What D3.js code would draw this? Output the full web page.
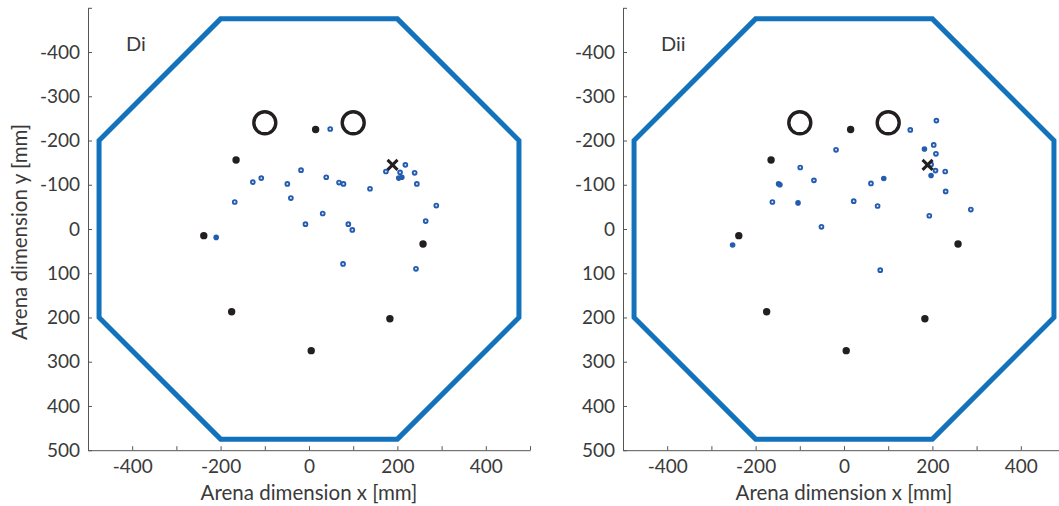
<!DOCTYPE html>
<html>
<head>
<meta charset="utf-8">
<script src="https://cdn.jsdelivr.net/npm/d3@7"></script>
<style>
  html, body { margin: 0; padding: 0; background: #fff; }
  svg { display: block; }
  text { font-family: Lato, "Open Sans", sans-serif; fill: #3a3a3a; }
</style>
</head>
<body>
<svg id="chart" width="1059" height="506"></svg>
<script>
// Arena outline (mm): octagon vertices
const arenaX = [-200, 200, 475, 475, 200, -200, -475, -475];
const arenaY = [-475, -475, -200, 200, 475, 475, 200, -200];

// Landmarks shared by both panels
const goalX = [-100, 100];
const goalY = [-240, -240];
const cueX = [15, -165, -238, 258, -175, 183, 5];
const cueY = [-225, -156, 15, 34, 187, 203, 275];
const crossX = [189];
const crossY = [-145];

// Panel Di: search positions
const diRingX = [-18, -127, -108, -49, -41, -168, -8, 48, 218, 174, 206, 239, 244, 39, 68, 78, 138, 31, 288, 264, 89, 98, 77, 242];
const diRingY = [-133, -106, -115, -102, -70, -61, -11, -226, -145, -130, -128, -127, -102, -117, -105, -102, -91, -35, -53, -18, -11, 2, 79, 90];
const diDotX = [-210, 203, 210];
const diDotY = [19, -115, -117];

// Panel Dii: search positions
const diiRingX = [-18, -99, -68, -162, 22, -51, 209, 150, 203, 208, 197, 207, 229, 61, 230, 76, 287, 193, 82];
const diiRingY = [-179, -139, -110, -61, -63, -5, -245, -224, -190, -170, -146, -132, -130, -103, -85, -52, -44, -30, 93];
const diiDotX = [-148, -145, -104, -252, 182, 197, 90];
const diiDotY = [-102, -100, -59, 36, -181, -121, -114];

// Axis ticks
const tickVals = d3.range(-500, 501, 100);
const xLabelVals = [-400, -200, 0, 200, 400];
const yLabelVals = [-400, -300, -200, -100, 0, 100, 200, 300, 400, 500];

const W = 442, H = 442.4;
const x = d3.scaleLinear().domain([-500, 500]).range([0, W]);
const y = d3.scaleLinear().domain([-500, 500]).range([0, H]);

const svg = d3.select("#chart");
const BLUE_ARENA = "#1372bc";
const BLUE_PTS = "#245cb0";
const DARK = "#231f20";

function drawPanel(left, label, ringX, ringY, dotX, dotY, showYLabel) {
  const g = svg.append("g").attr("transform", `translate(${left},7.8)`);

  // axes
  const xAxis = d3.axisBottom(x).tickValues(tickVals).tickSize(-4).tickSizeOuter(0)
    .tickPadding(9)
    .tickFormat(d => xLabelVals.includes(d) ? String(d) : "");
  const yAxis = d3.axisLeft(y).tickValues(tickVals).tickSize(-4).tickSizeOuter(0)
    .tickPadding(8)
    .tickFormat(d => yLabelVals.includes(d) ? String(d) : "");

  const gx = g.append("g").attr("transform", `translate(0,${H})`).call(xAxis);
  const gy = g.append("g").call(yAxis);
  [gx, gy].forEach(a => {
    a.selectAll("path.domain").attr("stroke", "#555").attr("stroke-width", 1);
    a.selectAll(".tick line").attr("stroke", "#555").attr("stroke-width", 1);
    a.selectAll(".tick text").style("font-family", "Lato, 'Open Sans', sans-serif")
      .style("font-size", "19px").attr("fill", "#3a3a3a");
  });

  // arena outline
  const pts = arenaX.map((v, i) => [x(v), y(arenaY[i])]);
  g.append("path")
    .attr("d", d3.line()(pts) + "Z")
    .attr("fill", "none")
    .attr("stroke", BLUE_ARENA)
    .attr("stroke-width", 5)
    .attr("stroke-linejoin", "miter");

  // goal rings
  g.selectAll(".goal").data(goalX).enter().append("circle")
    .attr("cx", d => x(d)).attr("cy", (d, i) => y(goalY[i]))
    .attr("r", 11).attr("fill", "none").attr("stroke", DARK).attr("stroke-width", 3.4);

  // cue dots
  g.selectAll(".cue").data(cueX).enter().append("circle")
    .attr("cx", d => x(d)).attr("cy", (d, i) => y(cueY[i]))
    .attr("r", 3.7).attr("fill", DARK);

  // search positions: open rings
  g.selectAll(".ring").data(ringX).enter().append("circle")
    .attr("cx", d => x(d)).attr("cy", (d, i) => y(ringY[i]))
    .attr("r", 1.9).attr("fill", "#e8eef8").attr("stroke", BLUE_PTS).attr("stroke-width", 1.9);

  // search positions: filled
  g.selectAll(".dot").data(dotX).enter().append("circle")
    .attr("cx", d => x(d)).attr("cy", (d, i) => y(dotY[i]))
    .attr("r", 2.8).attr("fill", BLUE_PTS);

  // start cross
  crossX.forEach((cx, i) => {
    const px = x(cx), py = y(crossY[i]), s = 5;
    g.append("path")
      .attr("d", `M${px - s},${py - s}L${px + s},${py + s}M${px - s},${py + s}L${px + s},${py - s}`)
      .attr("stroke", DARK).attr("stroke-width", 3).attr("fill", "none");
  });

  // panel label
  g.append("text").attr("x", 38).attr("y", 43.2)
    .style("font-size", "20px").text(label);

  // axis titles
  g.append("text").attr("x", W / 2).attr("y", 492)
    .attr("text-anchor", "middle").style("font-size", "20.5px")
    .text("Arena dimension x [mm]");
  if (showYLabel) {
    g.append("text")
      .attr("transform", `translate(-61,${H / 2 + 3}) rotate(-90)`)
      .attr("text-anchor", "middle").style("font-size", "20.5px")
      .text("Arena dimension y [mm]");
  }
}

drawPanel(88, "Di", diRingX, diRingY, diDotX, diDotY, true);
drawPanel(623, "Dii", diiRingX, diiRingY, diiDotX, diiDotY, false);
</script>
</body>
</html>
